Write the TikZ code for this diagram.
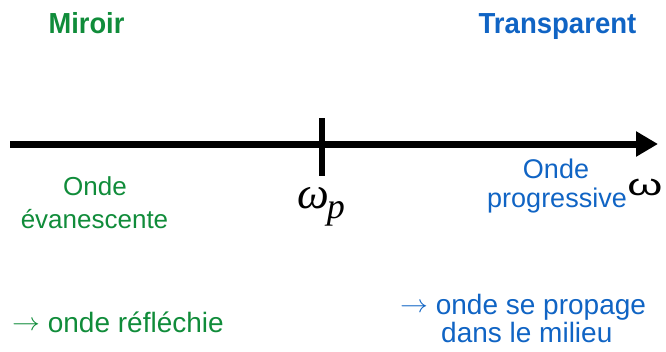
\documentclass[tikz,border=0pt]{standalone}
\usepackage{fontspec}
\setmainfont{Liberation Sans}
\newfontfamily\timesfont{Liberation Serif}
\usetikzlibrary{arrows.meta}
\definecolor{mgreen}{RGB}{16,140,58}
\definecolor{mblue}{RGB}{16,100,196}
\newcommand{\longarr}{\raisebox{2pt}{\scalebox{1.12}[1]{$\rightarrow$}}}
\begin{document}
\begin{tikzpicture}[x=1pt,y=-1pt,
  lbl/.style={inner sep=0pt, anchor=base},
  gtxt/.style={lbl, text=mgreen, font=\fontsize{26}{28}\selectfont},
  btxt/.style={lbl, text=mblue, font=\fontsize{27}{28}\selectfont},
  bigtxt/.style={font=\fontsize{28}{30}\selectfont},
  titletxt/.style={lbl, font=\fontsize{29}{30}\selectfont\bfseries},
  axisline/.style={line width=7pt},
]
\useasboundingbox (0,0) rectangle (666,351);
% axis
\coordinate (start) at (10,144);
\coordinate (end) at (658,144);
\draw[axisline, -{Triangle[length=22pt,width=24pt]}] (start) -- (end);
% tick
\coordinate (tickTop) at (322,118);
\coordinate (tickBot) at (322,176);
\draw[line width=6.5pt] (tickTop) -- (tickBot);
% titles
\node[titletxt, text=mgreen] (miroir) at (86.5,33) {\scalebox{0.94}[1]{Miroir}};
\node[titletxt, text=mblue] (transp) at (557.5,33) {\scalebox{0.95}[1]{Transparent}};
% green texts
\node[gtxt] (onde1) at (95,195) {Onde};
\node[gtxt] (evan) at (94.5,228) {évanescente};
\node[gtxt, bigtxt, anchor=base west] (refl) at (12,332) {\longarr\ onde réfléchie};
% blue texts
\node[btxt] (onde2) at (556,178) {Onde};
\node[btxt] (prog) at (557,207) {progressive};
\node[btxt, bigtxt, anchor=base west] (prop1) at (400,314) {\longarr\ onde se propage};
\node[btxt, bigtxt, anchor=base west] (prop2) at (441,342) {dans le milieu};
% omega labels
\node[lbl, font=\fontsize{29}{30}\selectfont] (omega) at (645,195) {\scalebox{1.55}[1.05]{ω}};
\node[lbl, anchor=base west] (wp) at (297,208) {\timesfont\itshape\fontsize{45}{45}\selectfont ω\kern-2pt\raisebox{-10pt}{\fontsize{36}{36}\selectfont p}};
\end{tikzpicture}
\end{document}
